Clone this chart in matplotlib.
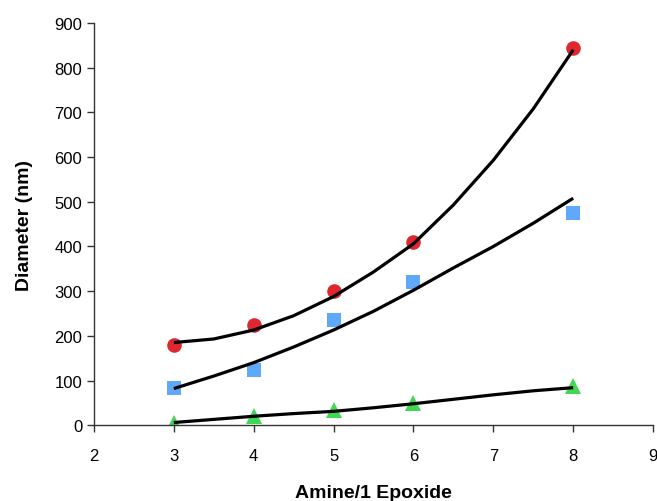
import matplotlib
matplotlib.use('Agg')
import matplotlib.pyplot as plt
import numpy as np

plt.rcParams['font.family'] = ['Liberation Sans', 'DejaVu Sans']

# measured points
x = [3, 4, 5, 6, 8]
red_y = [180, 225, 300, 410, 845]
blue_y = [83, 123, 235, 320, 475]
green_y = [5, 20, 35, 50, 88]

# trend lines
trend_x = [3, 3.5, 4, 4.5, 5, 5.5, 6, 6.5, 7, 7.5, 8]
red_trend = [185, 193, 213, 245, 288, 343, 406, 493, 593, 708, 840]
blue_trend = [82, 110, 140, 175, 213, 255, 302, 352, 400, 452, 508]
green_trend = [6, 13, 20, 26, 31, 39, 48, 58, 68, 77, 84]

xticks = [2, 3, 4, 5, 6, 7, 8, 9]
yticks = [0, 100, 200, 300, 400, 500, 600, 700, 800, 900]

fig = plt.figure(figsize=(6.57, 5.02), dpi=100)
ax = fig.add_axes([0.143, 0.151, 0.851, 0.801])

ax.plot(x, red_y, 'o', color='#e0262e', markersize=10.5, zorder=2, markeredgewidth=0)
ax.plot(x, blue_y, 's', color='#5fa8fa', markersize=9.5, zorder=2, markeredgewidth=0)
ax.plot(x, green_y, '^', color='#3fd850', markersize=11, zorder=2, markeredgewidth=0)

for t in [red_trend, blue_trend, green_trend]:
    ax.plot(trend_x, t, color='black', linewidth=2.3, zorder=3,
            solid_capstyle='butt', solid_joinstyle='round')

ax.set_xlim(2, 9)
ax.set_ylim(0, 900)
ax.set_xticks(xticks)
ax.set_yticks(yticks)
ax.spines['top'].set_visible(False)
ax.spines['right'].set_visible(False)
for s in ['left', 'bottom']:
    ax.spines[s].set_color('#333333')
    ax.spines[s].set_linewidth(1.0)
ax.tick_params(axis='x', direction='out', length=5, width=1, pad=11.5, labelsize=12, color='#333333')
ax.tick_params(axis='y', direction='out', length=5, width=1, pad=3.5, labelsize=12, color='#333333')

ax.set_xlabel('Amine/1 Epoxide', fontsize=14, fontweight='bold', labelpad=15)
ax.set_ylabel('Diameter (nm)', fontsize=14, fontweight='bold', labelpad=15)

fig.savefig('out.png', dpi=100)
